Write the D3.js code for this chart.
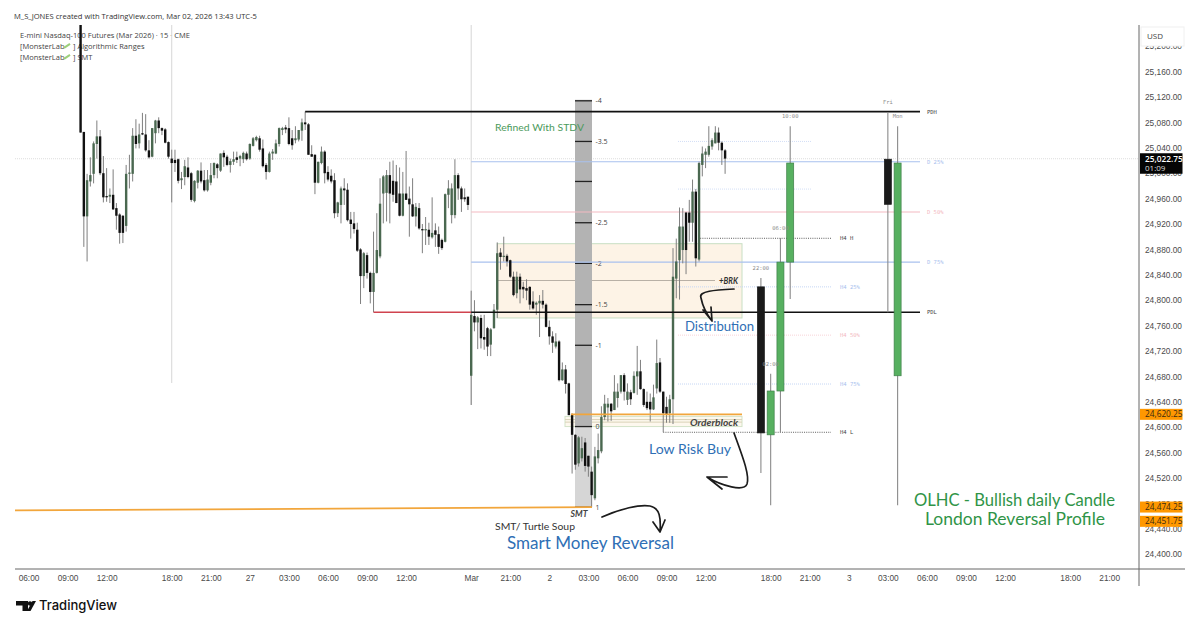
<!DOCTYPE html>
<html>
<head>
<meta charset="utf-8">
<script src="https://cdn.jsdelivr.net/npm/d3@7/dist/d3.min.js"></script>
<style>
    html, body { margin: 0; padding: 0; background: #fff; }
    svg { display: block; font-family: "Open Sans", sans-serif; }
    .axis text { fill: #4a4a4a; font-size: 8.3px; }
    .axis path, .axis line { display: none; }
    .small { font-family: "DejaVu Sans Mono", monospace; font-size: 5.5px; }
    .hand { font-family: Lato, sans-serif; }
</style>
</head>
<body>
<svg id="chart" width="1200" height="633"></svg>
<script>
// 15 minute bars, first one sits at bar index 16 of the time axis
const firstBar = 16;
const candleOpen = [
    25240,25065,24932,24987,24999,25046,25058,25000,24964,24963,
    24966,24945,24935,24933,24917,24999,24999,25059,25047,25063,
    25061,25036,25026,25063,25083,25071,25069,25049,25023,25021,
    25022,24989,24994,25009,25000,24956,24985,25004,24989,24973,
    24985,24997,25014,25004,25032,25026,25013,25018,25025,25023,
    25022,25031,25023,25043,25052,25055,25039,25013,25002,25031,
    25031,25046,25068,25072,25071,25055,25052,25053,25067,25080,
    25077,25030,25029,24985,25016,25034,25002,24996,24989,24937,
    24950,24976,24974,24927,24921,24911,24880,24838,24871,24843,
    24813,24843,24869,24968,24969,24997,24988,24987,24968,24933,
    24968,24960,24951,24932,24945,24912,24910,24911,24899,24910,
    24904,24895,24892,24966,24934,24934,24997,24976,24962,24963,
    24681,24775,24765,24772,24742,24756,24730,24756,24785,24875,
    24868,24870,24863,24837,24811,24837,24821,24819,24821,24798,
    24793,24795,24799,24793,24758,24743,24727,24735,24674,24691,
    24669,24620,24588,24543,24551,24576,24555,24530,24488,24551,
    24562,24616,24631,24637,24627,24646,24656,24682,24643,24655,
    24654,24680,24688,24660,24640,24640,24628,24661,24702,24656,
    24632,24622,24644,24834,24863,24879,24938,24938,24922,24971,
    24864,25013,25029,25029,25042,25047,25064,25048,25036
];
const candleHigh = [
    25250,25065,24999,25025,25050,25083,25068,25027,25008,24976,
    25006,24953,24937,24934,25013,25029,25071,25085,25078,25095,
    25093,25052,25071,25084,25088,25072,25071,25050,25037,25037,
    25023,25002,25021,25025,25002,24989,25005,25017,25005,25005,
    25016,25017,25016,25031,25036,25029,25023,25034,25034,25029,
    25034,25034,25047,25057,25059,25059,25053,25016,25034,25038,
    25053,25072,25073,25076,25088,25068,25074,25068,25086,25097,
    25079,25044,25030,25018,25042,25036,25011,25006,25000,24955,
    24979,24992,24984,24939,24939,24922,24882,24876,24875,24845,
    24908,24937,24992,24997,25005,25018,25020,25013,25009,25002,
    25035,24979,24992,24953,24953,24920,24931,24922,24962,24921,
    24916,24897,24968,24989,24984,25022,25000,24979,24976,24963,
    24815,24800,24775,24777,24777,24758,24756,24794,24891,24882,
    24900,24873,24864,24845,24845,24842,24829,24833,24822,24814,
    24798,24808,24816,24795,24768,24751,24748,24737,24702,24698,
    24670,24622,24589,24586,24585,24583,24555,24538,24569,24590,
    24633,24651,24646,24638,24682,24669,24682,24685,24669,24659,
    24688,24728,24706,24661,24656,24653,24667,24738,24709,24656,
    24648,24651,24882,24897,24946,24945,24939,24958,24990,24975,
    25018,25042,25039,25074,25055,25074,25072,25050,25038
];
const candleLow = [
    25064,24884,24861,24979,24984,25023,24997,24954,24955,24953,
    24942,24911,24889,24890,24908,24976,24987,25039,25039,25060,
    25034,25023,25025,25047,25063,25060,25047,25023,24954,25002,
    24984,24975,24981,24992,24955,24954,24976,24984,24971,24971,
    24981,24992,24992,25002,25010,25011,25001,25013,25016,25011,
    25016,25020,25021,25042,25050,25034,25009,24990,25001,25021,
    25030,25042,25060,25063,25044,25037,25047,25050,25051,25068,
    25029,25026,24967,24984,25014,24984,24987,24984,24929,24931,
    24921,24950,24924,24897,24905,24876,24794,24819,24834,24795,
    24781,24842,24866,24921,24924,24921,24955,24953,24932,24932,
    24958,24900,24931,24916,24911,24874,24887,24887,24897,24884,
    24873,24879,24891,24945,24921,24929,24958,24939,24955,24942,
    24635,24751,24723,24724,24722,24712,24712,24755,24772,24848,
    24861,24853,24835,24806,24803,24795,24803,24800,24785,24785,
    24777,24742,24787,24757,24730,24717,24724,24672,24673,24653,
    24619,24527,24533,24538,24546,24530,24522,24474,24485,24543,
    24559,24611,24609,24610,24627,24631,24653,24642,24635,24635,
    24653,24651,24659,24632,24627,24609,24627,24653,24654,24592,
    24607,24607,24605,24803,24801,24858,24841,24892,24892,24853,
    24861,24995,25008,25026,25037,25047,25036,25013,24999
];
const candleClose = [
    25064,24932,24989,24997,25047,25058,25000,24962,24962,24966,
    24943,24933,24906,24906,24999,25001,25059,25046,25061,25061,
    25036,25025,25071,25083,25071,25067,25048,25026,25016,25016,
    24988,24992,25011,24994,24958,24988,25004,24987,24973,24990,
    24997,25016,25008,25031,25025,25013,25019,25022,25021,25027,
    25032,25022,25046,25055,25057,25037,25011,25002,25031,25034,
    25047,25071,25071,25069,25046,25044,25055,25068,25080,25077,
    25029,25026,24985,25018,25034,25000,24990,24987,24937,24954,
    24976,24973,24926,24920,24912,24878,24838,24874,24843,24813,
    24843,24879,24952,24995,24997,24968,24966,24953,24933,24968,
    24958,24951,24932,24947,24913,24910,24912,24900,24906,24903,
    24884,24882,24967,24976,24976,24997,24976,24959,24959,24950,
    24777,24765,24773,24740,24738,24727,24754,24785,24874,24868,
    24870,24861,24837,24808,24837,24817,24817,24815,24793,24787,
    24796,24799,24793,24758,24743,24733,24735,24674,24691,24668,
    24619,24588,24541,24584,24567,24539,24538,24493,24554,24564,
    24616,24637,24637,24625,24656,24656,24682,24656,24656,24644,
    24681,24688,24660,24635,24630,24628,24647,24701,24656,24622,
    24621,24644,24837,24861,24916,24916,24879,24922,24971,24866,
    25016,25031,25034,25043,25052,25064,25048,25036,25023
];

// higher timeframe candles projected to the right of price
const htfNames = ['22:00', '02:00', '06:00', '10:00', 'Fri', 'Mon'];
const htfBars = [225, 228, 231, 234, 264, 267];
const htfOpen = [24821, 24588, 24657, 24860, 25022, 24681];
const htfHigh = [24835, 24684, 24898, 25074, 25096, 25074];
const htfLow = [24528, 24477, 24592, 24802, 24781, 24477];
const htfClose = [24591, 24657, 24860, 25016, 24951, 25016];

const timeBars = [0, 12, 24, 44, 56, 68, 80, 92, 104, 116, 136, 148, 160, 172, 184, 196, 208, 228, 240, 252, 264, 276, 288, 300, 320, 332];
const timeLabels = ['06:00', '09:00', '12:00', '18:00', '21:00', '27', '03:00', '06:00', '09:00', '12:00', 'Mar', '21:00', '2', '03:00', '06:00', '09:00', '12:00', '18:00', '21:00', '3', '03:00', '06:00', '09:00', '12:00', '18:00', '21:00'];
const priceTicks = [25200, 25160, 25120, 25080, 25040, 25000, 24960, 24920, 24880, 24840, 24800, 24760, 24720, 24680, 24640, 24600, 24560, 24520, 24480, 24440, 24400];

const dayLevelNames = ['D 25%', 'D 50%', 'D 75%'];
const dayLevelPrices = [25018, 24939, 24860];
const dayLevelColors = ['#a9c1ee', '#f3b9c2', '#a9c1ee'];
const h4LevelNames = ['H4 25%', 'H4 50%', 'H4 75%'];
const h4LevelPrices = [24821, 24745, 24668];
const h4LevelColors = ['#c6d6f4', '#f8d3d8', '#c6d6f4'];
const h4ExtraPrices = [25050, 24975];
const pdh = 25097;
const pdl = 24781;
const h4High = 24897.5;
const h4Low = 24592;

const stdevLabels = ['-4', '-3.5', '', '-2.5', '-2', '-1.5', '-1', '0', '1'];
const stdevPrices = [25114, 25050, 24987, 24922, 24858, 24793, 24729, 24601, 24474];

const markedPrices = [24620.25, 24474.25, 24451.75];
const lastPrice = 25022.75;
const boxDistribution = [24889, 24772];
const boxOrderblock = [24617, 24601];
const orderblockLines = [24612, 24608];
const brkPrice = 24831;
const smtLine = [24469, 24474];

const margin = { top: 25, right: 1139, left: 15, bottom: 569 };

const svg = d3.select('#chart');

const x = d3.scaleLinear().domain([0, 332]).range([28.5, 1109.2]);
const y = d3.scaleLinear().domain([25120, 24400]).range([97, 554.2]);

svg.append('clipPath').attr('id', 'pane')
    .append('rect')
    .attr('x', margin.left).attr('y', margin.top)
    .attr('width', margin.right - margin.left).attr('height', margin.bottom - margin.top);

// header
svg.append('text').attr('x', 14).attr('y', 19).attr('font-size', 7.6).attr('fill', '#333')
    .text('M_S_JONES created with TradingView.com, Mar 02, 2026 13:43 UTC-5');

const legend = svg.append('g').attr('fill', '#444').attr('font-size', 7.5);
legend.append('text').attr('x', 20).attr('y', 37.5).text('E-mini Nasdaq-100 Futures (Mar 2026) · 15 · CME');
['Algorithmic Ranges', 'SMT'].forEach((name, i) => {
    const ty = 48.8 + i * 11;
    legend.append('text').attr('x', 20).attr('y', ty).text('[MonsterLab');
    legend.append('line').attr('x1', 64).attr('x2', 70).attr('y1', ty - 1).attr('y2', ty - 5)
        .attr('stroke', '#9ccf7a').attr('stroke-width', 2);
    legend.append('text').attr('x', 73).attr('y', ty).text('] ' + name);
});

const pane = svg.append('g').attr('clip-path', 'url(#pane)');

// session separators and last price crosshair
pane.selectAll('.session')
    .data([[44, 383], [136, 405]])
    .enter().append('line')
    .attr('class', 'session')
    .attr('x1', d => x(d[0])).attr('x2', d => x(d[0]))
    .attr('y1', margin.top).attr('y2', d => d[1])
    .attr('stroke', '#d6d6d6');
pane.append('line')
    .attr('x1', margin.left).attr('x2', margin.right)
    .attr('y1', y(lastPrice)).attr('y2', y(lastPrice))
    .attr('stroke', '#ddd').attr('stroke-dasharray', '1 1');

// distribution box
pane.append('rect')
    .attr('x', x(144)).attr('width', 742 - x(144))
    .attr('y', y(boxDistribution[0]))
    .attr('height', y(boxDistribution[1]) - y(boxDistribution[0]))
    .attr('fill', '#fdf3e6').attr('stroke', '#c8dfc4');
pane.append('line')
    .attr('x1', x(144)).attr('x2', 715)
    .attr('y1', y(brkPrice)).attr('y2', y(brkPrice))
    .attr('stroke', '#b8b0a6');

// order block box
pane.append('rect')
    .attr('x', 565).attr('width', 742 - 565)
    .attr('y', y(boxOrderblock[0]))
    .attr('height', y(boxOrderblock[1]) - y(boxOrderblock[0]))
    .attr('fill', '#fdf8ee').attr('stroke', '#d3e3c8');
pane.selectAll('.ob-line')
    .data(orderblockLines)
    .enter().append('line')
    .attr('class', 'ob-line')
    .attr('x1', 565).attr('x2', 742)
    .attr('y1', d => y(d)).attr('y2', d => y(d))
    .attr('stroke', '#d9d2b8');

// stdev column
pane.append('rect')
    .attr('x', 575).attr('width', 17)
    .attr('y', y(stdevPrices[0]) - 1)
    .attr('height', y(stdevPrices[7]) - y(stdevPrices[0]) + 1)
    .attr('fill', '#b3b3b3');
pane.append('rect')
    .attr('x', 575).attr('width', 17)
    .attr('y', y(stdevPrices[7]))
    .attr('height', y(stdevPrices[8]) - y(stdevPrices[7]))
    .attr('fill', '#d6d6d6');
pane.selectAll('.std-tick')
    .data(stdevPrices)
    .enter().append('line')
    .attr('class', 'std-tick')
    .attr('x1', 575).attr('x2', 592)
    .attr('y1', d => y(d)).attr('y2', d => y(d))
    .attr('stroke', '#222').attr('stroke-width', 1.3);
pane.selectAll('.std-label')
    .data(stdevLabels)
    .enter().append('text')
    .attr('class', 'std-label')
    .attr('x', 595.5)
    .attr('y', (d, i) => y(stdevPrices[i]) + 2.5)
    .attr('font-size', 7)
    .attr('fill', '#444')
    .text(d => d);

// day range levels
pane.selectAll('.day-level')
    .data(dayLevelPrices)
    .enter().append('line')
    .attr('class', 'day-level')
    .attr('x1', x(136)).attr('x2', 920)
    .attr('y1', d => y(d)).attr('y2', d => y(d))
    .attr('stroke', (d, i) => dayLevelColors[i]).attr('stroke-width', 1.1);

// H4 levels
pane.selectAll('.h4-level')
    .data(h4LevelPrices)
    .enter().append('line')
    .attr('class', 'h4-level')
    .attr('x1', 678).attr('x2', 831)
    .attr('y1', d => y(d)).attr('y2', d => y(d))
    .attr('stroke', (d, i) => h4LevelColors[i]).attr('stroke-dasharray', '1 1');
pane.selectAll('.h4-extra')
    .data(h4ExtraPrices)
    .enter().append('line')
    .attr('class', 'h4-extra')
    .attr('x1', 678).attr('x2', 811)
    .attr('y1', d => y(d)).attr('y2', d => y(d))
    .attr('stroke', '#d3dff6').attr('stroke-dasharray', '1 1');
pane.append('line')
    .attr('x1', 698).attr('x2', 831).attr('y1', y(h4High)).attr('y2', y(h4High))
    .attr('stroke', '#333').attr('stroke-width', 0.8).attr('stroke-dasharray', '1 1.2');
pane.append('line')
    .attr('x1', x(195)).attr('x2', 831).attr('y1', y(h4Low)).attr('y2', y(h4Low))
    .attr('stroke', '#333').attr('stroke-width', 0.8).attr('stroke-dasharray', '1 1.2');

// candles
const bars = candleOpen.map((open, i) => ({
    bar: firstBar + i,
    open: open,
    high: candleHigh[i],
    low: candleLow[i],
    close: candleClose[i]
}));

pane.selectAll('.wick')
    .data(bars)
    .enter().append('line')
    .attr('class', 'wick')
    .attr('x1', d => x(d.bar)).attr('x2', d => x(d.bar))
    .attr('y1', d => y(d.high)).attr('y2', d => y(d.low))
    .attr('stroke', '#7f7f7f').attr('stroke-width', 1);

pane.selectAll('.body')
    .data(bars)
    .enter().append('rect')
    .attr('class', 'body')
    .attr('x', d => x(d.bar) - 1.2)
    .attr('width', 2.4)
    .attr('y', d => y(Math.max(d.open, d.close)))
    .attr('height', d => Math.max(1, Math.abs(y(d.open) - y(d.close))))
    .attr('fill', d => d.close >= d.open ? '#4a6850' : '#111');

// orange levels over the candles
pane.append('line')
    .attr('x1', 571).attr('x2', 742)
    .attr('y1', y(markedPrices[0])).attr('y2', y(markedPrices[0]))
    .attr('stroke', '#f2a63c').attr('stroke-width', 1.8);
pane.append('line')
    .attr('x1', margin.left).attr('x2', 592)
    .attr('y1', y(smtLine[0])).attr('y2', y(smtLine[1]))
    .attr('stroke', '#f2a63c').attr('stroke-width', 1.8);

// previous day high and low
pane.append('line')
    .attr('x1', x(85)).attr('x2', 920).attr('y1', y(pdh)).attr('y2', y(pdh))
    .attr('stroke', '#111').attr('stroke-width', 1.6);
pane.append('line')
    .attr('x1', x(106)).attr('x2', x(136)).attr('y1', y(pdl)).attr('y2', y(pdl))
    .attr('stroke', '#d0434f').attr('stroke-width', 1.6);
pane.append('line')
    .attr('x1', x(136)).attr('x2', 920).attr('y1', y(pdl)).attr('y2', y(pdl))
    .attr('stroke', '#111').attr('stroke-width', 1.6);

// projected candles
const htf = htfNames.map((name, i) => ({
    name: name,
    bar: htfBars[i],
    open: htfOpen[i],
    high: htfHigh[i],
    low: htfLow[i],
    close: htfClose[i]
}));

pane.selectAll('.htf-wick')
    .data(htf)
    .enter().append('line')
    .attr('class', 'htf-wick')
    .attr('x1', d => x(d.bar)).attr('x2', d => x(d.bar))
    .attr('y1', d => y(d.high)).attr('y2', d => y(d.low))
    .attr('stroke', '#8a8a8a').attr('stroke-width', 1.1);
pane.selectAll('.htf-body')
    .data(htf)
    .enter().append('rect')
    .attr('class', 'htf-body')
    .attr('x', d => x(d.bar) - 3.5)
    .attr('width', 7)
    .attr('y', d => y(Math.max(d.open, d.close)))
    .attr('height', d => Math.abs(y(d.open) - y(d.close)))
    .attr('fill', d => d.close >= d.open ? '#57b060' : '#1a1a1a')
    .attr('stroke', d => d.close >= d.open ? '#3f7f49' : '#1a1a1a')
    .attr('stroke-width', 0.7);
pane.selectAll('.htf-name')
    .data(htf)
    .enter().append('text')
    .attr('class', 'htf-name small')
    .attr('x', d => x(d.bar))
    .attr('y', d => y(d.high) - 8)
    .attr('text-anchor', 'middle')
    .attr('fill', '#8d8d8d')
    .text(d => d.name);

// level labels
const levelLabels = pane.append('g').attr('class', 'small');
levelLabels.append('text').attr('x', 927).attr('y', y(pdh) + 2).attr('fill', '#444').text('PDH');
levelLabels.append('text').attr('x', 927).attr('y', y(pdl) + 2).attr('fill', '#444').text('PDL');
dayLevelNames.forEach((name, i) => {
    levelLabels.append('text').attr('x', 927).attr('y', y(dayLevelPrices[i]) + 2)
        .attr('fill', dayLevelColors[i]).text(name);
});
levelLabels.append('text').attr('x', 840).attr('y', y(h4High) + 2).attr('fill', '#444').text('H4 H');
levelLabels.append('text').attr('x', 840).attr('y', y(h4Low) + 2).attr('fill', '#444').text('H4 L');
h4LevelNames.forEach((name, i) => {
    levelLabels.append('text').attr('x', 840).attr('y', y(h4LevelPrices[i]) + 2)
        .attr('fill', dayLevelColors[i]).text(name);
});

// hand written notes
const notes = [
    ['Refined With STDV', 495, 131, 89, 9.5, '#4c9a5c', 'normal', 400],
    ['+BRK', 719, 284, 19, 8.5, '#333', 'italic', 700],
    ['Distribution', 685, 331, 69, 13, '#2f6fb5', 'normal', 400],
    ['Orderblock', 690, 425.5, 48, 10, '#444', 'italic', 700],
    ['Low Risk Buy', 649, 454, 82, 14, '#2f6fb5', 'normal', 400],
    ['SMT', 570.5, 517, 17, 9, '#444', 'italic', 700],
    ['SMT/ Turtle Soup', 495, 530, 80, 9.5, '#333', 'normal', 400],
    ['Smart Money Reversal', 507, 549, 167, 17.5, '#2f6fb5', 'normal', 400],
    ['OLHC - Bullish daily Candle', 914, 506, 201, 17, '#2f9447', 'normal', 400],
    ['London Reversal Profile', 925, 525, 180, 17, '#2f9447', 'normal', 400]
];
const noteLayer = svg.append('g').attr('class', 'hand');
notes.forEach(n => {
    noteLayer.append('text')
        .attr('x', n[1]).attr('y', n[2])
        .attr('textLength', n[3]).attr('lengthAdjust', 'spacingAndGlyphs')
        .attr('font-size', n[4]).attr('fill', n[5]).attr('font-style', n[6]).attr('font-weight', n[7])
        .text(n[0]);
});

const arrows = [
    'M734,289 C715,290 698,291 701,298 C703,308 708,316 712,321 M703,310 L712,321 L711,307',
    'M734,433 C742,455 750,475 747,484 C744,492 722,486 707,477 M727,477 L707,477 L722,489',
    'M602,517 C620,509 640,504 650,506 C660,508 661,518 660,532 M653,522 L660,532 L665,520'
];
svg.selectAll('.arrow')
    .data(arrows)
    .enter().append('path')
    .attr('class', 'arrow')
    .attr('d', d => d)
    .attr('fill', 'none')
    .attr('stroke', '#1c1c1c')
    .attr('stroke-width', 1.7)
    .attr('stroke-linecap', 'round')
    .attr('stroke-linejoin', 'round');

// frame
svg.append('line').attr('x1', margin.left).attr('x2', 1185).attr('y1', margin.bottom).attr('y2', margin.bottom)
    .attr('stroke', '#666').attr('stroke-width', 1);
svg.append('line').attr('x1', margin.right).attr('x2', margin.right).attr('y1', margin.top).attr('y2', 586)
    .attr('stroke', '#666').attr('stroke-width', 1);

// axes
svg.append('g')
    .attr('class', 'axis')
    .attr('transform', `translate(0,${margin.bottom})`)
    .call(d3.axisBottom(x).tickValues(timeBars).tickSize(0).tickPadding(6)
        .tickFormat((d, i) => timeLabels[i]));
svg.append('g')
    .attr('class', 'axis')
    .attr('transform', `translate(${margin.right},0)`)
    .call(d3.axisRight(y).tickValues(priceTicks).tickSize(0).tickPadding(6)
        .tickFormat(d3.format(',.2f')));

// USD box covers the top tick
svg.append('rect').attr('x', 1141).attr('y', 27).attr('width', 43).attr('height', 19)
    .attr('fill', '#fff').attr('stroke', '#f0f0f0');
svg.append('text').attr('x', 1147).attr('y', 39).attr('font-size', 8).attr('fill', '#444').text('USD');

// price labels
svg.selectAll('.marked')
    .data(markedPrices)
    .enter().append('rect')
    .attr('class', 'marked')
    .attr('x', 1140).attr('width', 42.5)
    .attr('y', d => y(d) - 5.5).attr('height', 11)
    .attr('fill', '#ff9800');
svg.selectAll('.marked-text')
    .data(markedPrices)
    .enter().append('text')
    .attr('class', 'marked-text')
    .attr('x', 1145).attr('y', d => y(d) + 3)
    .attr('font-size', 8.3).attr('fill', '#3a2a10')
    .text(d3.format(',.2f'));
svg.append('rect').attr('x', 1140).attr('width', 42.5)
    .attr('y', y(lastPrice) - 5.5).attr('height', 20.5)
    .attr('fill', '#050505');
svg.append('text').attr('x', 1145).attr('y', y(lastPrice) + 3)
    .attr('font-size', 8.3).attr('font-weight', 600).attr('fill', '#fff').text(d3.format(',.2f')(lastPrice));
svg.append('text').attr('x', 1145).attr('y', y(lastPrice) + 12)
    .attr('font-size', 8).attr('fill', '#ddd').text('01:09');

// TradingView mark
const logo = svg.append('g').attr('fill', '#111');
logo.append('path').attr('d', 'M16,601 h12 v10 h-5.5 v-5.5 h-6.5 z');
logo.append('circle').attr('cx', 30).attr('cy', 603.5).attr('r', 2.2);
logo.append('path').attr('d', 'M27,611 L32.5,601 H36 L30.5,611 z');
logo.append('text').attr('x', 39).attr('y', 610)
    .attr('font-family', 'Inter, sans-serif').attr('font-size', 13).attr('font-weight', 500)
    .text('TradingView');
</script>
</body>
</html>
